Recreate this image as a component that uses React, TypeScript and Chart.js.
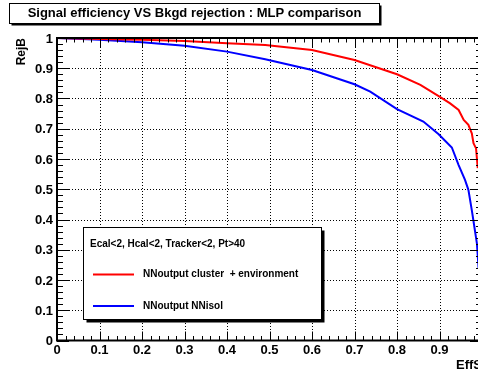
import React, { useEffect, useRef } from "react";
import { Chart, registerables } from "chart.js";

Chart.register(...registerables);

// ---------- data ----------
const redEff = [0, 0.1, 0.2, 0.3, 0.4, 0.49, 0.6, 0.7, 0.8, 0.855, 0.9, 0.925, 0.945, 0.957, 0.968, 0.976, 0.98, 0.986, 0.99];
const redRej = [1, 0.997, 0.994, 0.99, 0.983, 0.977, 0.96, 0.927, 0.88, 0.845, 0.806, 0.784, 0.762, 0.729, 0.713, 0.685, 0.652, 0.635, 0.57];

const blueEff = [0, 0.1, 0.2, 0.3, 0.4, 0.49, 0.6, 0.7, 0.737, 0.8, 0.862, 0.898, 0.929, 0.945, 0.96, 0.968, 0.976, 0.982, 0.988, 0.992];
const blueRej = [1, 0.994, 0.986, 0.974, 0.955, 0.93, 0.894, 0.847, 0.823, 0.765, 0.724, 0.682, 0.638, 0.58, 0.531, 0.498, 0.431, 0.376, 0.321, 0.24];

const xTickValues = [0, 0.1, 0.2, 0.3, 0.4, 0.5, 0.6, 0.7, 0.8, 0.9, 1];
const xTickLabels = ["0", "0.1", "0.2", "0.3", "0.4", "0.5", "0.6", "0.7", "0.8", "0.9", "1"];
const yTickValues = [0, 0.1, 0.2, 0.3, 0.4, 0.5, 0.6, 0.7, 0.8, 0.9, 1];
const yTickLabels = ["0", "0.1", "0.2", "0.3", "0.4", "0.5", "0.6", "0.7", "0.8", "0.9", "1"];
const minorStep = 0.02;

const titleText = "Signal efficiency VS Bkgd rejection : MLP comparison";
const xTitle = "EffS";
const yTitle = "RejB";
const legendHeader = "Ecal<2, Hcal<2, Tracker<2, Pt>40";
const seriesNames = ["NNoutput cluster  + environment", "NNoutput NNisol"];
const seriesColors = ["#ff0000", "#0000ff"];

const FONT = '"Liberation Sans", Arial, Helvetica, sans-serif';

const rootPlugin = {
  id: "rootStyle",
  beforeDraw(chart: any) {
    const ctx = chart.ctx;
    ctx.save();
    ctx.fillStyle = "#ffffff";
    ctx.fillRect(0, 0, chart.width, chart.height);
    ctx.restore();
  },
  beforeDatasetsDraw(chart: any) {
    const ctx = chart.ctx;
    const xs = chart.scales.x;
    const ys = chart.scales.y;
    const a = chart.chartArea;
    ctx.save();
    ctx.strokeStyle = "#000";
    ctx.lineWidth = 1;
    ctx.setLineDash([1, 2]);
    xTickValues.forEach((v) => {
      if (v <= 0 || v >= 1) return;
      const px = Math.round(xs.getPixelForValue(v)) + 0.5;
      ctx.beginPath();
      ctx.moveTo(px, a.top);
      ctx.lineTo(px, a.bottom);
      ctx.stroke();
    });
    yTickValues.forEach((v) => {
      if (v <= 0 || v >= 1) return;
      const py = Math.round(ys.getPixelForValue(v)) + 0.5;
      ctx.beginPath();
      ctx.moveTo(a.left, py);
      ctx.lineTo(a.right, py);
      ctx.stroke();
    });
    ctx.restore();
  },
  afterDatasetsDraw(chart: any) {
    const ctx = chart.ctx;
    const xs = chart.scales.x;
    const ys = chart.scales.y;
    const a = chart.chartArea;
    ctx.save();
    ctx.setLineDash([]);
    ctx.strokeStyle = "#000";
    ctx.fillStyle = "#000";

    // frame
    ctx.lineWidth = 2;
    ctx.strokeRect(a.left, a.top, a.right - a.left, a.bottom - a.top);

    // ticks
    ctx.lineWidth = 1;
    const xMaj = 9, xMin = 4.5, yMaj = 12, yMin = 6;
    const nMinor = Math.round(1 / minorStep);
    for (let i = 0; i <= nMinor; i++) {
      const v = i * minorStep;
      const major = i % 5 === 0;
      const px = Math.round(xs.getPixelForValue(v)) + 0.5;
      const lx = major ? xMaj : xMin;
      ctx.beginPath();
      ctx.moveTo(px, a.bottom);
      ctx.lineTo(px, a.bottom - lx);
      ctx.moveTo(px, a.top);
      ctx.lineTo(px, a.top + lx);
      ctx.stroke();
      const py = Math.round(ys.getPixelForValue(v)) + 0.5;
      const ly = major ? yMaj : yMin;
      ctx.beginPath();
      ctx.moveTo(a.left, py);
      ctx.lineTo(a.left + ly, py);
      ctx.moveTo(a.right, py);
      ctx.lineTo(a.right - ly, py);
      ctx.stroke();
    }

    // tick labels
    ctx.font = `bold 13px ${FONT}`;
    ctx.textAlign = "center";
    ctx.textBaseline = "middle";
    xTickValues.forEach((v, i) => {
      ctx.fillText(xTickLabels[i], xs.getPixelForValue(v), a.bottom + 10);
    });
    ctx.textAlign = "right";
    yTickValues.forEach((v, i) => {
      ctx.fillText(yTickLabels[i], a.left - 4, ys.getPixelForValue(v) + 1);
    });

    // axis titles
    ctx.font = `bold 13px ${FONT}`;
    ctx.textAlign = "right";
    ctx.textBaseline = "middle";
    ctx.fillText(xTitle, a.right, a.bottom + 25);
    ctx.save();
    ctx.translate(22, a.top);
    ctx.rotate(-Math.PI / 2);
    ctx.font = `bold 12px ${FONT}`;
    ctx.textAlign = "right";
    ctx.fillText(yTitle, 0, 0);
    ctx.restore();

    // title box
    const tb = { x: 9.5, y: 3.5, w: 370, h: 20 };
    ctx.fillStyle = "#000";
    ctx.fillRect(tb.x + 2, tb.y + 2, tb.w, tb.h);
    ctx.fillStyle = "#fff";
    ctx.fillRect(tb.x, tb.y, tb.w, tb.h);
    ctx.strokeStyle = "#000";
    ctx.lineWidth = 1;
    ctx.strokeRect(tb.x, tb.y, tb.w, tb.h);
    ctx.fillStyle = "#000";
    ctx.font = `bold 13px ${FONT}`;
    ctx.textAlign = "center";
    ctx.textBaseline = "middle";
    ctx.fillText(titleText, tb.x + tb.w / 2, 13.5);

    // legend box
    const lb = { x: 83.5, y: 227.5, w: 238, h: 92 };
    ctx.fillStyle = "#000";
    ctx.fillRect(lb.x + 3, lb.y + 3, lb.w, lb.h);
    ctx.fillStyle = "#fff";
    ctx.fillRect(lb.x, lb.y, lb.w, lb.h);
    ctx.strokeRect(lb.x, lb.y, lb.w, lb.h);
    ctx.fillStyle = "#000";
    ctx.font = `bold 10px ${FONT}`;
    ctx.textAlign = "left";
    ctx.textBaseline = "middle";
    ctx.fillText(legendHeader, 90, 244.5);
    const rows = [274.5, 306];
    seriesNames.forEach((name, i) => {
      ctx.strokeStyle = seriesColors[i];
      ctx.lineWidth = 2;
      ctx.beginPath();
      ctx.moveTo(93, rows[i]);
      ctx.lineTo(134, rows[i]);
      ctx.stroke();
      ctx.fillStyle = "#000";
      ctx.fillText(name, 143, rows[i]);
    });
    ctx.restore();
  },
};

export default function App() {
  const ref = useRef<HTMLCanvasElement | null>(null);
  useEffect(() => {
    if (!ref.current) return;
    const chart = new Chart(ref.current, {
      type: "line",
      data: {
        datasets: [
          {
            label: seriesNames[0],
            data: redEff.map((x, i) => ({ x, y: redRej[i] })),
            borderColor: seriesColors[0],
            borderWidth: 2,
            pointRadius: 0,
            tension: 0,
            fill: false,
          },
          {
            label: seriesNames[1],
            data: blueEff.map((x, i) => ({ x, y: blueRej[i] })),
            borderColor: seriesColors[1],
            borderWidth: 2,
            pointRadius: 0,
            tension: 0,
            fill: false,
          },
        ],
      },
      options: {
        responsive: false,
        animation: false,
        parsing: true,
        layout: { padding: { left: 57, right: 8, top: 38, bottom: 33.5 } },
        plugins: {
          legend: { display: false },
          tooltip: { enabled: false },
          title: { display: false },
        },
        scales: {
          x: { type: "linear", min: 0, max: 1, display: false },
          y: { type: "linear", min: 0, max: 1, display: false },
        },
      },
      plugins: [rootPlugin],
    });
    return () => chart.destroy();
  }, []);
  return (
    <div
      style={{
        position: "absolute",
        left: 0,
        top: 0,
        width: 478,
        height: 374,
        overflow: "hidden",
        background: "#fff",
      }}
    >
      <canvas ref={ref} width={490} height={374} style={{ display: "block", width: 490, height: 374 }} />
    </div>
  );
}
